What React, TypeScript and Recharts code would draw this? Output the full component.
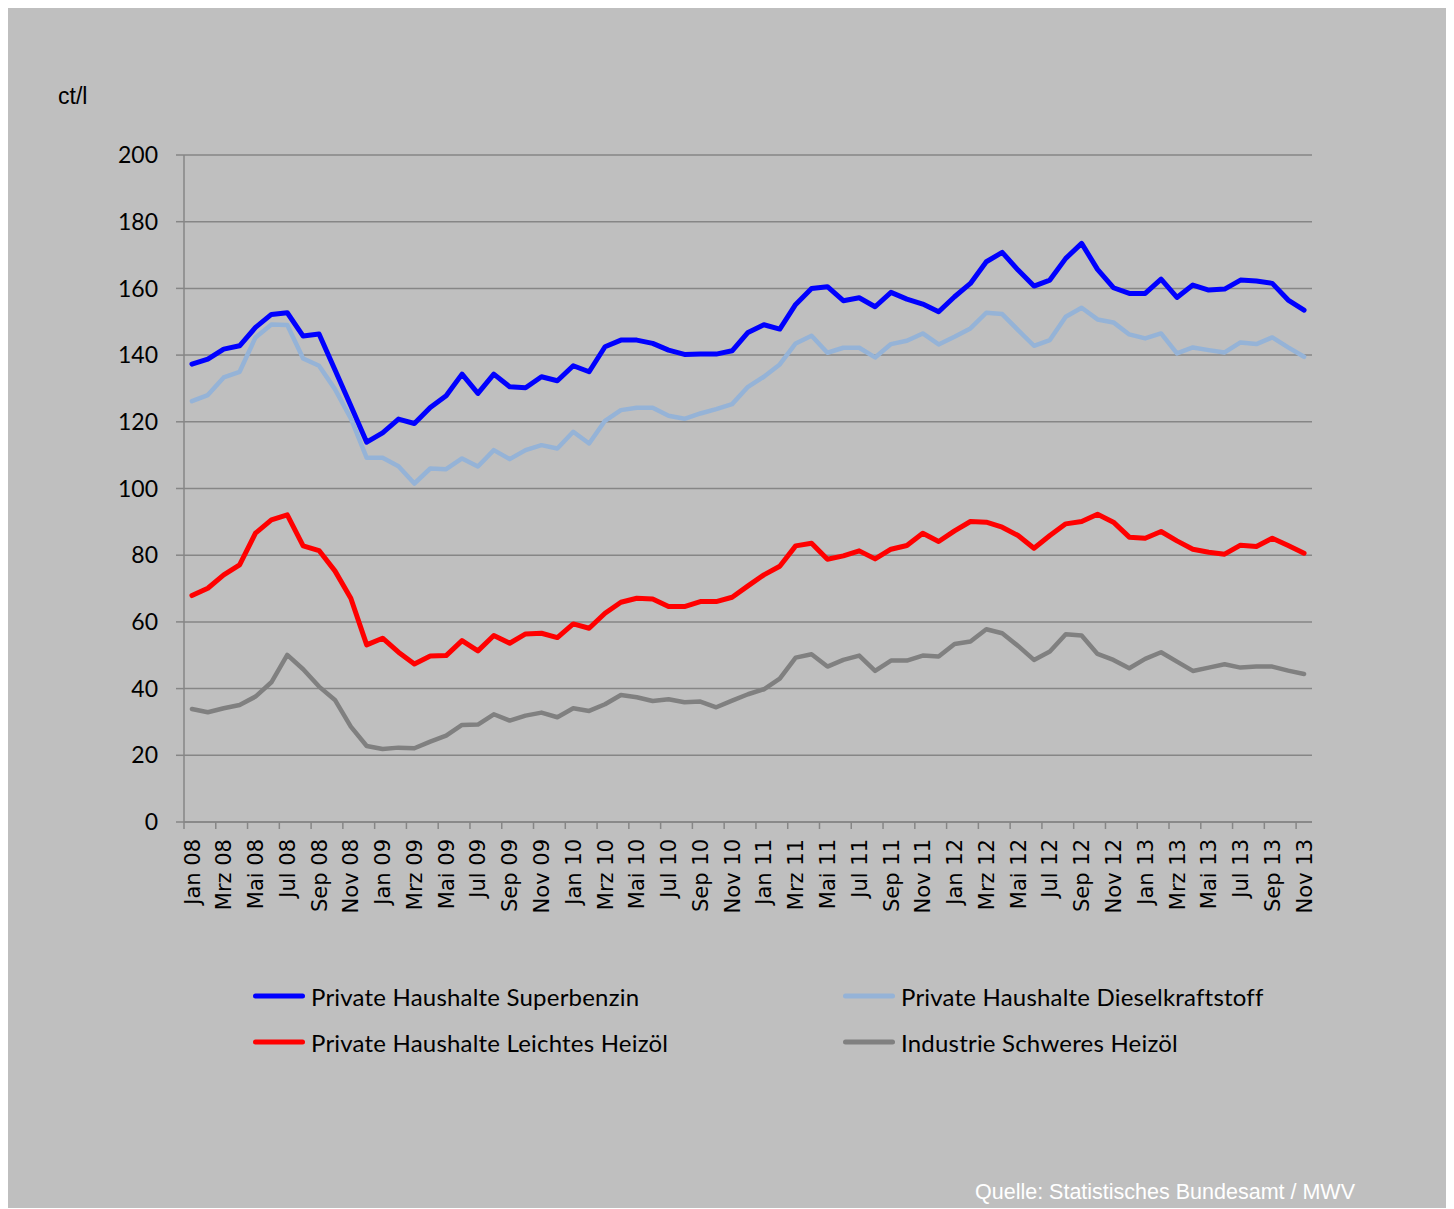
import { LineChart, Line, XAxis, YAxis, CartesianGrid } from 'recharts';

// German month abbreviations, Jan 08 .. Nov 13
const monthNames = ['Jan', 'Feb', 'Mrz', 'Apr', 'Mai', 'Jun', 'Jul', 'Aug', 'Sep', 'Okt', 'Nov', 'Dez'];
const years = ['08', '09', '10', '11', '12', '13'];
const months = years.flatMap((y) => monthNames.map((m) => `${m} ${y}`)).slice(0, 71);

const superbenzin = [
    137.3, 138.8, 141.8, 142.8, 148.3, 152.2, 152.7, 145.7, 146.3, 135.6,
    124.8, 113.9, 116.7, 120.8, 119.5, 124.3, 127.8, 134.3, 128.5, 134.3,
    130.5, 130.2, 133.5, 132.3, 136.8, 135.0, 142.5, 144.5, 144.5, 143.5,
    141.5, 140.2, 140.3, 140.3, 141.3, 146.8, 149.1, 147.8, 155.2, 160.0,
    160.5, 156.3, 157.2, 154.5, 158.8, 156.8, 155.3, 153.0, 157.5, 161.5,
    168.0, 170.8, 165.5, 160.7, 162.5, 169.0, 173.5, 165.7, 160.2, 158.5,
    158.5, 162.8, 157.3, 161.0, 159.5, 159.8, 162.5, 162.2, 161.5, 156.5, 153.5,
];
const diesel = [
    126.2, 128.0, 133.3, 135.0, 145.3, 149.2, 149.0, 139.0, 136.8, 129.8,
    121.0, 109.2, 109.2, 106.7, 101.5, 106.0, 105.8, 109.0, 106.6, 111.5,
    108.8, 111.5, 113.0, 112.0, 117.0, 113.5, 120.3, 123.5, 124.2, 124.2,
    121.8, 120.9, 122.5, 123.8, 125.3, 130.5, 133.5, 137.2, 143.5, 145.8,
    140.7, 142.2, 142.2, 139.3, 143.3, 144.3, 146.5, 143.2, 145.5, 148.0,
    152.7, 152.3, 147.5, 142.8, 144.5, 151.5, 154.2, 150.7, 149.8, 146.2,
    145.0, 146.5, 140.5, 142.3, 141.5, 140.8, 143.8, 143.3, 145.3, 142.3, 139.5,
];
const leichtesHeizoel = [
    67.9, 70.1, 74.1, 77.1, 86.6, 90.6, 92.1, 82.8, 81.4, 75.3,
    67.1, 53.1, 55.1, 50.9, 47.4, 49.8, 49.9, 54.4, 51.3, 55.9,
    53.6, 56.4, 56.6, 55.3, 59.4, 58.1, 62.6, 65.9, 67.1, 66.9,
    64.6, 64.6, 66.1, 66.1, 67.4, 70.8, 74.1, 76.7, 82.8, 83.6,
    78.8, 79.8, 81.3, 78.9, 81.8, 82.9, 86.6, 84.1, 87.3, 90.1,
    89.9, 88.4, 85.9, 82.1, 85.9, 89.4, 90.1, 92.3, 89.9, 85.4,
    85.1, 87.1, 84.3, 81.8, 80.9, 80.3, 83.0, 82.6, 85.1, 82.9, 80.6,
];
const schweresHeizoel = [
    33.9, 32.9, 34.1, 35.1, 37.6, 41.9, 50.1, 45.8, 40.6, 36.6,
    28.6, 22.8, 21.9, 22.3, 22.1, 24.1, 25.9, 29.1, 29.2, 32.3,
    30.4, 31.9, 32.8, 31.4, 34.1, 33.3, 35.3, 38.1, 37.4, 36.3,
    36.8, 35.9, 36.1, 34.4, 36.4, 38.3, 39.8, 43.0, 49.3, 50.3,
    46.6, 48.6, 49.9, 45.3, 48.4, 48.4, 49.9, 49.6, 53.4, 54.1,
    57.8, 56.6, 52.8, 48.6, 51.1, 56.3, 55.9, 50.4, 48.6, 46.1,
    48.9, 50.9, 48.1, 45.3, 46.3, 47.3, 46.3, 46.6, 46.6, 45.4, 44.4,
];
const yTicks = [0, 20, 40, 60, 80, 100, 120, 140, 160, 180, 200];

const series = [
    { key: 'superbenzin', name: 'Private Haushalte Superbenzin', color: '#0000ff', width: 5, values: superbenzin },
    { key: 'diesel', name: 'Private Haushalte Dieselkraftstoff', color: '#95b3d7', width: 4.5, values: diesel },
    { key: 'leicht', name: 'Private Haushalte Leichtes Heizöl', color: '#ff0000', width: 5, values: leichtesHeizoel },
    { key: 'schwer', name: 'Industrie Schweres Heizöl', color: '#808080', width: 4.5, values: schweresHeizoel },
];

const data = months.map((m, i) => {
    const row: Record<string, any> = { month: m };
    series.forEach((s) => { row[s.key] = s.values[i]; });
    return row;
});

const W = 1440;
const H = 1000;
const PLOT_LEFT = 177;
const PLOT_RIGHT = 1305;
const BAND = (PLOT_RIGHT - PLOT_LEFT) / months.length;
const AXIS_GREY = '#868686';

const MonthTick = (props: any) => {
    const { x, y, payload } = props;
    return (
        <g transform={`translate(${x},${y})`}>
            <line x1={-BAND / 2} y1={0} x2={-BAND / 2} y2={7} stroke={AXIS_GREY} strokeWidth={1.5} />
            <text
                transform="rotate(-90)"
                x={-17}
                y={0}
                dy="0.36em"
                textAnchor="end"
                fill="#000"
                fontSize={21}
                fontFamily="DejaVu Sans"
            >
                {payload.value}
            </text>
        </g>
    );
};

export default function App() {
    return (
        <div style={{ position: 'relative', width: W, height: 1202, marginLeft: -1, marginTop: -2, background: '#bfbfbf', fontFamily: 'Lato, sans-serif' }}>
            <div style={{ position: 'absolute', left: 51, top: 90, transform: 'translateY(-50%)', fontFamily: '"Liberation Sans", Arial, sans-serif', fontSize: 23 }}>
                ct/l
            </div>

            <LineChart width={W} height={H} data={data} margin={{ top: 149, right: W - PLOT_RIGHT, bottom: 64, left: 0 }}>
                <CartesianGrid vertical={false} stroke={AXIS_GREY} strokeWidth={1.5} />
                <XAxis
                    dataKey="month"
                    interval={1}
                    height={120}
                    padding={{ left: BAND / 2, right: BAND / 2 }}
                    axisLine={{ stroke: AXIS_GREY, strokeWidth: 1.5 }}
                    tickLine={false}
                    tickSize={0}
                    tickMargin={0}
                    tick={<MonthTick />}
                />
                <YAxis
                    width={PLOT_LEFT}
                    domain={[0, 200]}
                    ticks={yTicks}
                    interval={0}
                    axisLine={{ stroke: AXIS_GREY, strokeWidth: 1.5 }}
                    tickLine={{ stroke: AXIS_GREY, strokeWidth: 1.5 }}
                    tickSize={8}
                    tickMargin={18}
                    tick={{ fill: '#000', fontSize: 23, fontFamily: 'Lato' }}
                />
                {series.map((s) => (
                    <Line
                        key={s.key}
                        type="linear"
                        dataKey={s.key}
                        name={s.name}
                        stroke={s.color}
                        strokeWidth={s.width}
                        strokeLinejoin="round"
                        strokeLinecap="round"
                        dot={false}
                        activeDot={false}
                        isAnimationActive={false}
                    />
                ))}
            </LineChart>

            {series.map((s, i) => {
                const col = i % 2;
                const row = Math.floor(i / 2);
                const left = col === 0 ? 246 : 836;
                const top = row === 0 ? 990 : 1036;
                return (
                    <div key={s.key} style={{ position: 'absolute', left, top, transform: 'translateY(-50%)', display: 'flex', alignItems: 'center', fontSize: 24, letterSpacing: 0.2, whiteSpace: 'nowrap' }}>
                        <span style={{ display: 'inline-block', width: 52, height: 5, background: s.color, borderRadius: 3, marginRight: 6 }} />
                        <span>{s.name}</span>
                    </div>
                );
            })}

            <div style={{ position: 'absolute', left: 968, top: 1186, transform: 'translateY(-50%)', color: '#fff', fontFamily: '"Liberation Sans", Arial, sans-serif', fontSize: 21.5, whiteSpace: 'nowrap' }}>
                Quelle: Statistisches Bundesamt / MWV
            </div>
        </div>
    );
}
